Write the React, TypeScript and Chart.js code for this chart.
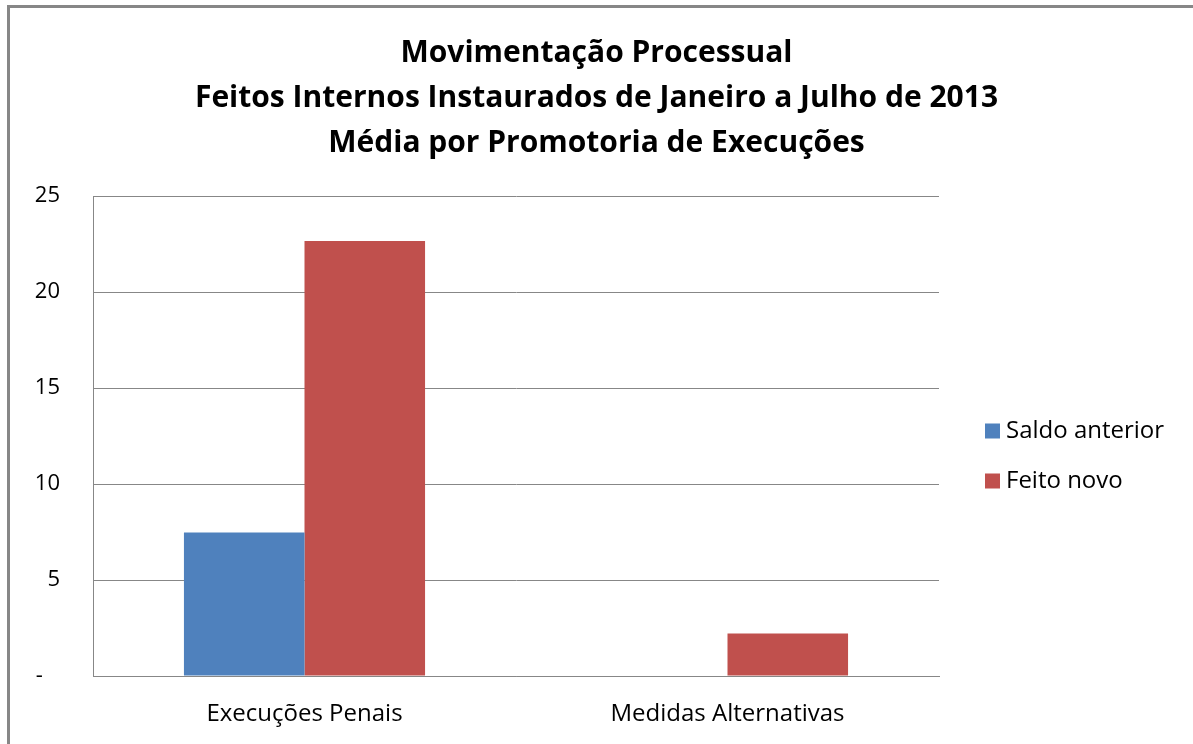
import React, { useEffect, useRef } from "react";
import { Chart, registerables } from "chart.js";

Chart.register(...registerables);

const categories = ["Execuções Penais", "Medidas Alternativas"];
const seriesNames = ["Saldo anterior", "Feito novo"];
const saldoAnterior = [7.47, 0];
const feitoNovo = [22.66, 2.21];
const titleLines = [
  "Movimentação Processual",
  "Feitos Internos Instaurados de Janeiro a Julho de 2013",
  "Média por Promotoria de Execuções",
];
const yTicks = [0, 5, 10, 15, 20, 25];

const FONT = '"Open Sans", "Liberation Sans", sans-serif';
const GRID = "#878787";

const legendPlugin = {
  id: "sideLegend",
  afterDraw(chart: any) {
    const ctx = chart.ctx;
    const { right, top } = chart.chartArea;
    ctx.save();
    chart.data.datasets.forEach((ds: any, i: number) => {
      const cy = top + 235 + i * 50;
      ctx.fillStyle = ds.backgroundColor;
      ctx.fillRect(right + 46, cy - 7.5, 15, 15);
      ctx.fillStyle = "#000";
      ctx.font = `24px ${FONT}`;
      ctx.textBaseline = "middle";
      ctx.textAlign = "left";
      ctx.fillText(ds.label, right + 67, cy);
    });
    ctx.restore();
  },
};

export default function App() {
  const ref = useRef<HTMLCanvasElement>(null);
  useEffect(() => {
    if (!ref.current) return;
    const chart = new Chart(ref.current, {
      type: "bar",
      data: {
        labels: categories,
        datasets: [
          { label: seriesNames[0], data: saldoAnterior, backgroundColor: "#4F81BD" },
          { label: seriesNames[1], data: feitoNovo, backgroundColor: "#C0504D" },
        ],
      },
      plugins: [legendPlugin],
      options: {
        responsive: false,
        animation: false,
        devicePixelRatio: 1,
        layout: { padding: 0 },
        datasets: { bar: { categoryPercentage: 0.57, barPercentage: 1 } },
        plugins: {
          legend: { display: false },
          tooltip: { enabled: false },
          title: {
            display: true,
            text: titleLines,
            color: "#000",
            font: { family: FONT, size: 30, weight: "bold", lineHeight: "45px" as any },
            padding: { top: 31, bottom: 30 },
          },
        },
        scales: {
          x: {
            grid: { display: false, drawTicks: false },
            border: { display: true, color: GRID, width: 1 },
            ticks: { color: "#000", font: { family: FONT, size: 24 }, padding: 24 },
            afterFit: (s: any) => { s.height = 68; },
          },
          y: {
            min: 0,
            max: 25,
            afterBuildTicks: (s: any) => { s.ticks = yTicks.map((v) => ({ value: v })); },
            grid: { color: GRID, drawTicks: false },
            border: { display: true, color: GRID, width: 1 },
            ticks: {
              color: "#000",
              font: { family: FONT, size: 22 },
              padding: 33,
              callback: (v: any) => (v === 0 ? "-   " : String(v)),
            },
            afterFit: (s: any) => { s.width = 93; },
          },
          legendSpace: {
            type: "linear",
            position: "right",
            display: true,
            grid: { display: false, drawTicks: false },
            border: { display: false },
            ticks: { display: false },
            afterFit: (s: any) => { s.width = 254; },
          },
        },
      },
    });
    return () => chart.destroy();
  }, []);
  return (
    <>
      <div
        style={{
          position: "fixed",
          left: 7,
          top: 5,
          width: 1186,
          height: 739,
          boxSizing: "border-box",
          borderTop: "3px solid #878787",
          borderLeft: "3px solid #878787",
        }}
      />
      <canvas
        ref={ref}
        width={1193}
        height={744}
        style={{ position: "fixed", left: 0, top: 0, width: 1193, height: 744 }}
      />
    </>
  );
}
